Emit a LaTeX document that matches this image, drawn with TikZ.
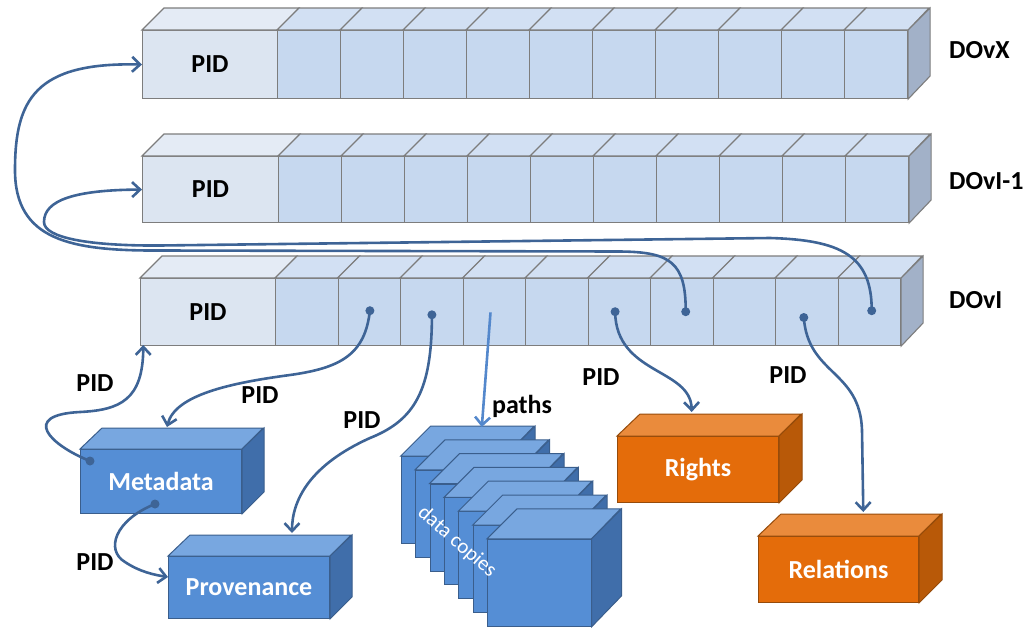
\documentclass[tikz,border=0pt]{standalone}
\usepackage{fontspec}
\setmainfont{Carlito}
\usetikzlibrary{arrows.meta,calc}

\definecolor{pidfront}{RGB}{220,229,241}
\definecolor{pidtopc}{RGB}{228,235,245}
\definecolor{cellfront}{RGB}{198,216,239}
\definecolor{celltopc}{RGB}{210,224,243}
\definecolor{rowsidec}{RGB}{162,177,200}
\definecolor{rowline}{RGB}{125,125,125}
\definecolor{bluefrontc}{RGB}{85,142,213}
\definecolor{bluetopc}{RGB}{120,167,224}
\definecolor{bluesidec}{RGB}{64,110,170}
\definecolor{blueline}{RGB}{58,94,140}
\definecolor{orangefrontc}{RGB}{228,108,10}
\definecolor{orangetopc}{RGB}{234,139,60}
\definecolor{orangesidec}{RGB}{184,89,8}
\definecolor{orangeline}{RGB}{150,75,10}
\definecolor{arrowc}{RGB}{62,100,150}
\definecolor{pathsc}{RGB}{84,136,204}

\tikzset{
  pidcell/.style={draw=rowline, fill=pidfront, line width=1.1pt, inner sep=0pt,
    font=\bfseries\fontsize{26}{26}\selectfont},
  cell/.style={draw=rowline, fill=cellfront, line width=1.1pt, inner sep=0pt},
  pidtop/.style={fill=pidtopc, draw=rowline, line width=1.1pt},
  celltop/.style={fill=celltopc, draw=rowline, line width=1.1pt},
  rowside/.style={fill=rowsidec, draw=rowline, line width=1.1pt},
  bluefront/.style={draw=blueline, fill=bluefrontc, line width=1pt, inner sep=0pt,
    text=white, font=\bfseries\fontsize{26}{26}\selectfont},
  bluetop/.style={draw=blueline, fill=bluetopc, line width=1pt},
  blueside/.style={draw=blueline, fill=bluesidec, line width=1pt},
  orangefront/.style={draw=orangeline, fill=orangefrontc, line width=1pt, inner sep=0pt,
    text=white, font=\bfseries\fontsize{26}{26}\selectfont},
  orangetop/.style={draw=orangeline, fill=orangetopc, line width=1pt},
  orangeside/.style={draw=orangeline, fill=orangesidec, line width=1pt},
  conn/.style={draw=arrowc, line width=2.6pt, -{Straight Barb[length=8pt,width=15pt]}},
  pathsconn/.style={draw=pathsc, line width=2.6pt, -{Straight Barb[length=8pt,width=15pt]}},
  dot/.style={fill=arrowc},
  lbl/.style={font=\bfseries\fontsize{26}{26}\selectfont, inner sep=0pt},
}

\newcommand{\dorow}[6]{%
  \node[pidcell, minimum width=#6, minimum height=#4, anchor=north west] (#1c0) at (#2,#3) {PID};
  \filldraw[pidtop] (#1c0.north west) -- ++(22,-22) -- ++(#6,0) -- (#1c0.north east) -- cycle;
  \foreach \i in {1,...,10} {
    \node[cell, minimum width=#5, minimum height=#4, anchor=north west] (#1c\i) at ({#2+#6+(\i-1)*#5},#3) {};
    \filldraw[celltop] (#1c\i.north west) -- ++(22,-22) -- ++(#5,0) -- (#1c\i.north east) -- cycle;
  }
  \filldraw[rowside] (#1c10.north east) -- ++(22,-22) -- ++(0,#4) -- (#1c10.south east) -- cycle;
}

\newcommand{\mycubeplain}[8]{%
  \node[#8front, minimum width=#4, minimum height=#5, anchor=north west] (#1) at (#2,#3) {};
  \filldraw[#8top] (#1.north west) -- ++(#6,-#7) -- ++(#4,0) -- (#1.north east) -- cycle;
  \filldraw[#8side] (#1.north east) -- ++(#6,-#7) -- ++(0,#5) -- (#1.south east) -- cycle;
}
\newcommand{\mycube}[9]{%
  \mycubeplain{#1}{#2}{#3}{#4}{#5}{#6}{#7}{#8}%
  \node[#8front, draw=none, fill=none] (#1text) at (#1.center) {#9};
}

\begin{document}
\begin{tikzpicture}[x=1pt,y=-1pt]
\useasboundingbox (0,0) rectangle (1028,627);

% rows
\dorow{ra}{142}{30}{68}{63}{135}
\dorow{rb}{142}{156}{66}{63}{136}
\dorow{rc}{140}{278}{67}{62.5}{135}

\node[lbl, anchor=west] (lx) at (949,50) {DOvX};
\node[lbl, anchor=west] (li1) at (949,181) {DOvI-1};
\node[lbl, anchor=west] (li) at (949,300) {DOvI};

% boxes
\mycube{meta}{80}{449}{161}{64}{22}{21}{blue}{Metadata}
\mycube{prov}{168}{556}{161}{62}{22}{21}{blue}{Provenance}
\mycube{rights}{617}{436}{161}{66}{23}{22}{orange}{Rights}
\mycube{rel}{758}{536}{160}{66}{23}{22}{orange}{Relations}

\foreach \k in {0,...,6} {
  \mycubeplain{dc\k}{400.7+14.4*\k}{456+13.8*\k}{103.5}{87}{30}{30}{blue}
}
\node[rotate=-41, text=white, font=\fontsize{21}{21}\selectfont, inner sep=0pt] (dctext) at (457,542) {data copies};

% anchor coordinates
\coordinate (d3) at (369.9,310.7);
\coordinate (d4) at (431.9,314.8);
\coordinate (d5) at (490.5,312.4);
\coordinate (d7) at (615.1,311.7);
\coordinate (d8) at (685.7,311.7);
\coordinate (d10) at (803.8,317.5);
\coordinate (d11) at (871.7,310.7);
\coordinate (m1) at (90,461);
\coordinate (m2) at (155,504);
\coordinate (pidc) at (143.3,345);
\coordinate (metatop) at (167,427);
\coordinate (provtop) at (292,533);
\coordinate (provleft) at (168,577);
\coordinate (dctop) at (481.8,427);
\coordinate (rightstop) at (691.7,412);
\coordinate (reltop) at (863.3,512);

% connectors
\draw[conn] (m1) .. controls (50,445) and (20,415) .. (80,412) .. controls (120,410) and (143,400) .. (pidc);
\draw[conn] (d3) .. controls (365,355) and (340,368) .. (290,375) .. controls (230,383) and (175,395) .. (metatop);
\draw[conn] (d4) .. controls (432,390) and (415,420) .. (370,438) .. controls (310,465) and (292,500) .. (provtop);
\draw[conn] (m2) .. controls (115,520) and (105,550) .. (125,562) .. controls (140,572) and (155,575) .. (provleft);
\draw[pathsconn] (d5) -- (dctop);
\draw[conn] (d7) .. controls (616,375) and (691,368) .. (rightstop);
\draw[conn] (d10) .. controls (808,375) and (860,370) .. (862,430) -- (reltop);
\draw[conn] (d8) .. controls (686,262) and (670,252) .. (620,251.5) -- (160,250.5) .. controls (70,251) and (15,240) .. (15,170) .. controls (15,100) and (35,62) .. (rac0.west);
\draw[conn] (d11) .. controls (872,255) and (840,240) .. (770,238) -- (160,245.5) .. controls (90,246) and (44,238) .. (44,222) .. controls (44,200) and (75,190) .. (rbc0.west);

\foreach \p in {d3,d4,d7,d8,d10,d11,m1,m2} { \fill[dot] (\p) circle[radius=4.5pt]; }

% labels
\node[lbl] (p1) at (95,383) {PID};
\node[lbl] (p2) at (260,395) {PID};
\node[lbl] (p3) at (362,420) {PID};
\node[lbl] (p4) at (95,562) {PID};
\node[lbl] (p5) at (601,377) {PID};
\node[lbl] (p6) at (788,375) {PID};
\node[lbl] (pp) at (522,406) {paths};
\end{tikzpicture}
\end{document}
